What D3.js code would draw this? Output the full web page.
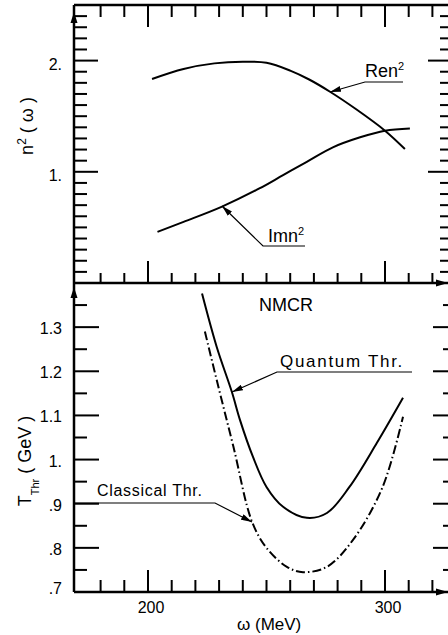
<!DOCTYPE html>
<html>
<head>
<meta charset="utf-8">
<script src="https://cdn.jsdelivr.net/npm/d3@7"></script>
<style>
body { margin: 0; background: #fff; }
svg { display: block; font-family: "Liberation Sans", Arial, sans-serif; }
.tlabel { font-size: 16px; fill: #000; }
</style>
</head>
<body>
<svg id="chart" width="448" height="635"></svg>
<script>
// upper panel: n^2(omega), omega in MeV
const renOmega = [201.7, 215, 228, 240, 250, 260, 268, 276.8, 288, 300, 308.4];
const renValue = [1.835, 1.925, 1.975, 1.99, 1.98, 1.91, 1.83, 1.72, 1.56, 1.37, 1.205];
const imnOmega = [204, 215, 231, 247, 257, 267, 278, 289.5, 300, 310.5];
const imnValue = [0.46, 0.55, 0.685, 0.85, 0.97, 1.09, 1.22, 1.31, 1.37, 1.39];

// lower panel: threshold T_Thr in GeV
const quantumOmega = [222.8, 229, 235.4, 238.8, 244.3, 250, 257, 267, 275.5, 285, 296.6, 307.6];
const quantumValue = [1.376, 1.255, 1.153, 1.09, 1.006, 0.938, 0.893, 0.868, 0.879, 0.938, 1.038, 1.14];
const classicalOmega = [224, 229, 236, 243.9, 250, 258.6, 265.4, 275.5, 286.5, 299, 307.6];
const classicalValue = [1.29, 1.18, 1.03, 0.859, 0.80, 0.757, 0.745, 0.757, 0.818, 0.938, 1.097];

const omegaMajor = [200, 300];
const omegaMinor = [180, 190, 210, 220, 230, 240, 250, 260, 270, 280, 290, 310, 320];
const nMajor = [1, 2];
const nLabels = ["1.", "2."];
const tMajor = [0.7, 0.8, 0.9, 1.0, 1.1, 1.2, 1.3];
const tLabels = [".7", ".8", ".9", "1.", "1.1", "1.2", "1.3"];

const attr = {
    left: 74,
    right: 448,
    top: 5,
    mid: 283,
    bottom: 592
};

const translate = function(a, b) {
    return "translate(" + a + "," + b + ")";
};

const svg = d3.select("#chart");

const x = d3.scaleLinear().domain([200, 300]).range([148, 385]);
const yTop = d3.scaleLinear().domain([0, 2.5]).range([attr.mid, attr.top]);
const yBot = d3.scaleLinear().domain([0.7, 1.4]).range([attr.bottom, attr.mid]);

const nMinor = d3.range(1, 25).map(d => d / 10).filter(d => d !== 1 && d !== 2);
const tMinor = d3.range(15, 28, 2).map(d => d / 20);
const tInner = tMajor.slice(1);

// arrow marker for leader lines
svg.append("defs")
    .append("marker")
    .attr("id", "head")
    .attr("markerUnits", "userSpaceOnUse")
    .attr("viewBox", "0 -3 11 6")
    .attr("refX", 11)
    .attr("refY", 0)
    .attr("markerWidth", 11)
    .attr("markerHeight", 6)
    .attr("orient", "auto")
    .append("path")
    .attr("d", "M0,-3L11,0L0,3Z")
    .attr("fill", "#000");

// tick labels
svg.append("g")
    .selectAll("text")
    .data(nMajor)
    .enter()
    .append("text")
    .attr("class", "tlabel")
    .attr("x", attr.left - 12)
    .attr("y", d => yTop(d) + 9)
    .attr("text-anchor", "end")
    .text((d, i) => nLabels[i]);

svg.append("g")
    .selectAll("text")
    .data(tMajor)
    .enter()
    .append("text")
    .attr("class", "tlabel")
    .attr("x", attr.left - 12)
    .attr("y", (d, i) => yBot(d) + (i === 0 ? 2 : 7))
    .attr("text-anchor", "end")
    .text((d, i) => tLabels[i]);

svg.append("g")
    .selectAll("text")
    .data(omegaMajor)
    .enter()
    .append("text")
    .attr("class", "tlabel")
    .attr("x", d => x(d) + 3)
    .attr("y", attr.bottom + 21)
    .attr("text-anchor", "middle")
    .text(d3.format("d"));

// tick segments from the scales: [start, end, width]
const xSeg = function(values, y0, len) {
    return values.map(d => [[x(d), y0], [x(d), y0 + len], 2]);
};
const ySeg = function(scale, values, x0, len) {
    return values.map(d => [[x0, scale(d)], [x0 + len, scale(d)], 2]);
};

const ticks = [].concat(
    xSeg(omegaMinor, attr.top, 12),
    xSeg(omegaMajor, attr.top, 22),
    xSeg(omegaMinor, attr.mid, -10),
    xSeg(omegaMajor, attr.mid, -22),
    xSeg(omegaMinor, attr.bottom, -12),
    xSeg(omegaMajor, attr.bottom, -22),
    ySeg(yTop, nMinor, attr.left, 13),
    ySeg(yTop, nMajor, attr.left, 24),
    ySeg(yBot, tMinor, attr.left, 13),
    ySeg(yBot, tInner, attr.left, 25),
    ySeg(yTop, nMinor, attr.right, -8),
    ySeg(yTop, nMajor, attr.right, -20),
    ySeg(yBot, tMinor, attr.right, -5),
    ySeg(yBot, tInner, attr.right, -15)
);

// frame lines plus ticks, one join
const frame = [
    [[attr.left, attr.top], [attr.right, attr.top], 2.5],
    [[attr.left, attr.top], [attr.left, attr.bottom], 2.5],
    [[attr.left, attr.mid], [attr.right, attr.mid], 2.5],
    [[attr.left, attr.bottom], [attr.right, attr.bottom], 2.5]
].concat(ticks);

svg.append("g")
    .selectAll("path")
    .data(frame)
    .enter()
    .append("path")
    .attr("d", d => d3.line()([d[0], d[1]]))
    .attr("stroke", "#000")
    .attr("stroke-width", d => d[2])
    .attr("fill", "none");

// axis arrowheads
const heads = [
    "M" + attr.left + ",12 l-3.5,11 l7,0 Z",
    "M" + attr.left + "," + (attr.mid + 4) + " l-3.5,11 l7,0 Z",
    "M448," + attr.mid + " l-12,-3.5 l0,7 Z",
    "M448," + attr.bottom + " l-12,-3.5 l0,7 Z"
];
svg.append("g")
    .selectAll("path")
    .data(heads)
    .enter()
    .append("path")
    .attr("d", d => d)
    .attr("fill", "#000");

// curves
const curve = function(omega, values, yScale, dash) {
    let pts = omega.map((w, i) => [x(w), yScale(values[i])]);
    let p = svg.append("path")
        .attr("d", d3.line().curve(d3.curveCatmullRom.alpha(0.5))(pts))
        .attr("fill", "none")
        .attr("stroke", "#000")
        .attr("stroke-width", 2);
    if (dash) {
        p.attr("stroke-dasharray", dash);
    }
};

curve(renOmega, renValue, yTop, null);
curve(imnOmega, imnValue, yTop, null);
curve(quantumOmega, quantumValue, yBot, null);
curve(classicalOmega, classicalValue, yBot, "9,3,1.5,3");

// leader lines with underlines
const leader = function(points) {
    svg.append("path")
        .attr("d", d3.line()(points))
        .attr("fill", "none")
        .attr("stroke", "#000")
        .attr("stroke-width", 1.2)
        .attr("marker-end", "url(#head)");
};

leader([[403, 82], [365, 82], [330, 92]]);
leader([[305, 246], [263, 246], [222, 206]]);
leader([[412, 372], [277, 372], [232, 392]]);
leader([[attr.left, 503], [215, 503], [252, 522]]);

// curve labels
const label = function(px, py, size, spacing, parts) {
    let t = svg.append("text")
        .attr("x", px)
        .attr("y", py)
        .attr("font-size", size)
        .attr("letter-spacing", spacing);
    parts.forEach(function(p) {
        let s = t.append("tspan").text(p[0]);
        if (p[1]) {
            s.attr("font-size", p[1]).attr("baseline-shift", p[2]);
        }
    });
    return t;
};

label(365, 77, 18, 0, [["Ren"], ["2", 11, "7px"]]);
label(268, 242, 18, 0, [["Imn"], ["2", 11, "7px"]]);
label(259, 311, 18, 0, [["NMCR"]]);
label(280, 367, 17, 1.7, [["Quantum Thr."]]);
label(97, 496, 16, 0.7, [["Classical Thr."]]);
label(237, 630, 17, 0, [["\u03c9 (MeV)"]]);

// rotated axis titles
label(0, 0, 18, 0, [["n"], ["2", 12, "7px"], ["  ( \u03c9 )"]])
    .attr("text-anchor", "middle")
    .attr("transform", translate(33, 126) + " rotate(-90)");
label(0, 0, 18, 0, [["T"], ["Thr", 11, "-8px"], ["    ( GeV )"]])
    .attr("text-anchor", "middle")
    .attr("transform", translate(31, 461) + " rotate(-90)");
</script>
</body>
</html>
